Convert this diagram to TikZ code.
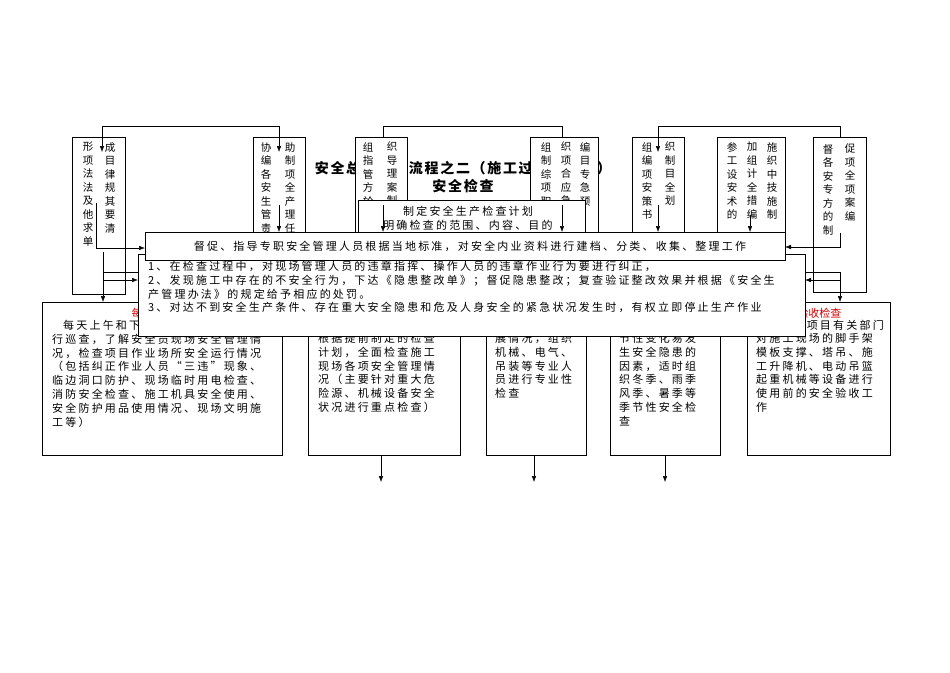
\documentclass[tikz,border=0pt]{standalone}
\usepackage{fontspec}
\setmainfont{Noto Sans CJK SC}
\newfontfamily\cjk[LetterSpace=20]{Noto Sans CJK SC}
\newfontfamily\cjkt[LetterSpace=12]{Noto Sans CJK SC}
\usetikzlibrary{arrows.meta}
\tikzset{
  bx/.style={draw, fill=white, line width=0.6pt},
  arr/.style={-{Latex[length=6pt,width=4.5pt]}, line width=0.5pt},
  ln/.style={line width=0.5pt},
  vcol/.style={anchor=north, align=center, inner sep=0pt, font=\fontsize{10.5}{13.5}\selectfont},
  txt/.style={anchor=north west, align=left, inner sep=0pt, font=\cjk\fontsize{11}{13.8}\selectfont},
  red/.style={text=red!85!black}
}
\begin{document}
\begin{tikzpicture}[x=1pt,y=-1pt]
\useasboundingbox (0,0) rectangle (950,672);
% title
\node[font=\cjkt\bfseries\fontsize{14}{16}\selectfont] (title) at (463,168) {安全总监工作流程之二（施工过程中工作）};
\node[font=\cjkt\bfseries\fontsize{14}{16}\selectfont] (title2) at (463,186) {安全检查};
% top loops
\coordinate (l1a) at (102,126); \coordinate (l1b) at (279,126);
\coordinate (l2a) at (383,126); \coordinate (l2b) at (562,126);
\coordinate (l3a) at (658,126); \coordinate (l3b) at (840,126);
% top boxes
\draw[bx] (72,137) rectangle (125,294);
\draw[bx] (253,137) rectangle (305,294);
\draw[bx] (355,137) rectangle (407,294);
\draw[bx] (530,137) rectangle (598,294);
\draw[bx] (632,137) rectangle (684,294);
\draw[bx] (717,137) rectangle (785,294);
\draw[bx] (813,137) rectangle (866,292);
\node[vcol] (a1) at (88,142) {形\\项\\法\\法\\及\\他\\求\\单};
\node[vcol] (a2) at (110,142) {成\\目\\律\\规\\其\\要\\清};
\node[vcol] (b1) at (266,142) {协\\编\\各\\安\\生\\管\\责};
\node[vcol] (b2) at (290,142) {助\\制\\项\\全\\产\\理\\任};
\node[vcol] (c1) at (368,142) {组\\指\\管\\方\\於};
\node[vcol] (c2) at (392,142) {织\\导\\理\\案\\制};
\node[vcol] (d1) at (546,142) {组\\制\\综\\项\\职};
\node[vcol] (d2) at (566,142) {织\\项\\合\\应\\急};
\node[vcol] (d3) at (585,142) {编\\目\\专\\急\\预};
\node[vcol] (e1) at (647,142) {组\\编\\项\\安\\策\\书};
\node[vcol] (e2) at (670,142) {织\\制\\目\\全\\划};
\node[vcol] (f1) at (732,142) {参\\工\\设\\安\\术\\的};
\node[vcol] (f2) at (752,142) {加\\组\\计\\全\\措\\编};
\node[vcol] (f3) at (772,142) {施\\织\\中\\技\\施\\制};
\node[vcol] (g1) at (828,144) {督\\各\\安\\专\\方\\的\\制};
\node[vcol] (g2) at (850,144) {促\\项\\全\\项\\案\\编};
\draw[arr] (l1a) -- (l1b) -- (279,152);
\draw[arr] (l1a) -- (102,152);
\draw[ln] (383,137) -- (l2a) -- (l2b) -- (562,137);
\draw[arr] (l3a) -- (658,152);
\draw[ln] (l3a) -- (l3b) -- (840,137);
% plan box
\draw[bx] (358,200) rectangle (585,300);
\node[font=\cjk\fontsize{11}{13.8}\selectfont, align=center] (plan) at (468,218) {制定安全生产检查计划\\明确检查的范围、内容、目的};
% arrows into main box
\draw[arr] (279,205) -- (279,232);
\draw[arr] (383,205) -- (383,232);
\draw[arr] (562,205) -- (562,232);
\draw[arr] (658,205) -- (658,232);
\draw[arr] (750,215) -- (750,232);
% bottom boxes
\draw[bx] (42,302) rectangle (282,455);
\draw[bx] (308,302) rectangle (460,455);
\draw[bx] (486,302) rectangle (586,455);
\draw[bx] (610,302) rectangle (720,455);
\draw[bx] (747,302) rectangle (890,455);
\node[red, font=\fontsize{11}{13}\selectfont, anchor=west] (r1) at (128,313) {每日巡查};
\node[red, font=\fontsize{11}{13}\selectfont, anchor=east] (r5) at (845,313) {验收检查};
\node[txt] (t1) at (52,320) {\quad 每天上午和下午对施工现场进\\行巡查，了解安全员现场安全管理情\\况，检查项目作业场所安全运行情况\\（包括纠正作业人员“三违”现象、\\临边洞口防护、现场临时用电检查、\\消防安全检查、施工机具安全使用、\\安全防护用品使用情况、现场文明施\\工等）};
\node[txt] (t2) at (318,333) {根据提前制定的检查\\计划，全面检查施工\\现场各项安全管理情\\况（主要针对重大危\\险源、机械设备安全\\状况进行重点检查）};
\node[txt] (t3) at (495,333) {展情况，组织\\机械、电气、\\吊装等专业人\\员进行专业性\\检查};
\node[txt] (t4) at (619,333) {节性变化易发\\生安全隐患的\\因素，适时组\\织冬季、雨季\\风季、暑季等\\季节性安全检\\查};
\node[txt, anchor=north east] (t5a) at (884,320) {项目有关部门};
\node[txt] (t5) at (756,333) {对施工现场的脚手架\\模板支撑、塔吊、施\\工升降机、电动吊篮\\起重机械等设备进行\\使用前的安全验收工\\作};
\draw[arr] (381,455) -- (381,482);
\draw[arr] (534,455) -- (534,482);
\draw[arr] (665,455) -- (665,482);
% side connectors
\draw[arr] (103,272) -- (103,302);
\draw[ln] (103,252) -- (103,272) -- (140,272);
\draw[arr] (103,280) -- (138,280);
\draw[arr] (840,272) -- (840,302);
\draw[ln] (840,272) -- (805,272);
\draw[arr] (840,280) -- (805,280);
% rules box
\draw[bx] (138,254) rectangle (805,336);
\node[txt] (rules) at (148,261) {1、在检查过程中，对现场管理人员的违章指挥、操作人员的违章作业行为要进行纠正，\\2、发现施工中存在的不安全行为，下达《隐患整改单》；督促隐患整改；复查验证整改效果并根据《安全生\\产管理办法》的规定给予相应的处罚。\\3、对达不到安全生产条件、存在重大安全隐患和危及人身安全的紧急状况发生时，有权立即停止生产作业};
% main box
\draw[bx] (145,232) rectangle (785,260);
\node[font=\cjk\fontsize{11}{13}\selectfont] (main) at (470,246) {督促、指导专职安全管理人员根据当地标准，对安全内业资料进行建档、分类、收集、整理工作};
\draw[arr] (96,203) -- (96,248) -- (145,248);
\draw[arr] (840,233) -- (840,247) -- (785,247);
\end{tikzpicture}
\end{document}
